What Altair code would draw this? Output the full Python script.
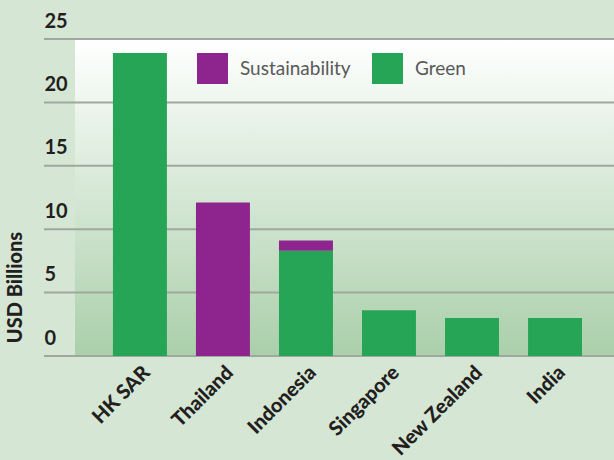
import altair as alt
import pandas as pd

countries = ["HK SAR", "Thailand", "Indonesia", "Singapore", "New Zealand", "India"]
green = [23.9, 0.0, 8.3, 3.6, 3.0, 3.0]
sustainability = [0.0, 12.1, 0.8, 0.0, 0.0, 0.0]
series = ["Sustainability", "Green"]
colors = ["#8e248e", "#27a556"]
y_ticks = [0, 5, 10, 15, 20, 25]

rows = []
for c, g, s in zip(countries, green, sustainability):
    rows.append({"country": c, "type": "Green", "value": g, "ord": 0})
    rows.append({"country": c, "type": "Sustainability", "value": s, "ord": 1})
df = pd.DataFrame(rows)

FONT = "Lato"

bg = alt.Chart(alt.Data(values=[{}])).mark_rect(
    color=alt.LinearGradient(
        gradient="linear", x1=0, x2=0, y1=0, y2=1,
        stops=[alt.GradientStop(offset=0, color="#ffffff"),
               alt.GradientStop(offset=1, color="#aacfaa")]
    )
).encode(x=alt.value(31), x2=alt.value("width"), y=alt.value(0), y2=alt.value("height"))

grid = alt.Chart(pd.DataFrame({"v": y_ticks})).mark_rule(
    color="#9ea89e", strokeWidth=2
).encode(
    y=alt.Y("v:Q", scale=alt.Scale(domain=[0, 25], nice=False)),
    x=alt.value(0), x2=alt.value("width")
)

bars = alt.Chart(df).mark_bar().encode(
    x=alt.X("country:N", sort=countries,
            scale=alt.Scale(paddingInner=0.35, paddingOuter=0.608, align=0.683),
            axis=alt.Axis(title=None, labelAngle=-45, labelAlign="right", labelBaseline="top",
                          labelFont=FONT, labelFontWeight=900, labelFontSize=20,
                          labelColor="#231f20", labelPadding=6, ticks=False, domain=False)),
    y=alt.Y("value:Q", stack="zero",
            scale=alt.Scale(domain=[0, 25], nice=False),
            axis=alt.Axis(title="USD Billions", values=y_ticks, grid=False, ticks=False, domain=False,
                          labelAlign="left", labelPadding=0, labelOffset=-12,
                          labelBaseline="alphabetic",
                          labelFont=FONT, labelFontWeight="bold", labelFontSize=20,
                          labelColor="#231f20",
                          titleFont=FONT, titleFontWeight=900, titleFontSize=20,
                          titleColor="#231f20", titleX=-29, titleY=248,
                          titleAlign="center", titleBaseline="middle", titleAngle=270)),
    color=alt.Color("type:N", scale=alt.Scale(domain=series, range=colors),
                    legend=alt.Legend(title=None, orient="none", legendX=153, legendY=14,
                                      direction="horizontal", symbolType="square",
                                      symbolSize=961, symbolStrokeWidth=0, symbolOpacity=1,
                                      labelFont=FONT, labelFontSize=19, labelColor="#595959",
                                      labelOffset=12, columnPadding=21, padding=0)),
    order=alt.Order("ord:Q")
)

chart = alt.layer(bg, grid, bars).properties(
    width=570, height=317,
    autosize="none",
    padding={"left": 44, "top": 39, "right": 0, "bottom": 104},
    background="#d6e6d4"
).configure_view(stroke=None)

chart.save("out.html", embed_options={"renderer": "svg", "actions": False})
